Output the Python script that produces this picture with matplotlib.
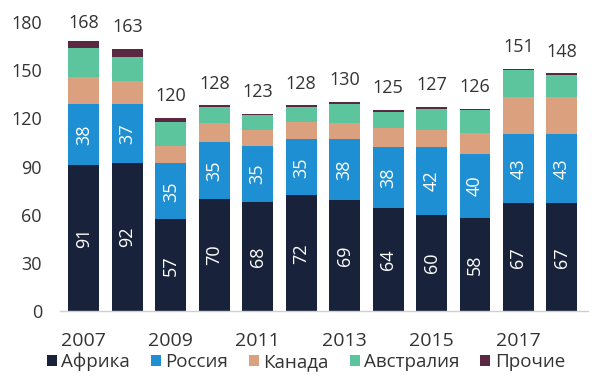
import numpy as np
import matplotlib
matplotlib.use('Agg')
import matplotlib.pyplot as plt

plt.rcParams['font.family'] = ['Open Sans', 'DejaVu Sans']

# Data
years = [2007, 2008, 2009, 2010, 2011, 2012, 2013, 2014, 2015, 2016, 2017, 2018]
africa = [91, 92, 57, 70, 68, 72, 69, 64, 60, 58, 67, 67]
russia = [38, 37, 35, 35, 35, 35, 38, 38, 42, 40, 43, 43]
canada = [17, 14, 11, 12, 10, 11, 10, 12, 11, 13, 23, 23]
australia = [18, 15, 15, 10, 9, 9, 12, 10, 13, 14, 17, 14]
others = [4, 5, 2, 1, 1, 1, 1, 1, 1, 1, 1, 1]
totals = [168, 163, 120, 128, 123, 128, 130, 125, 127, 126, 151, 148]
yticks = [0, 30, 60, 90, 120, 150, 180]

names = ['Африка', 'Россия', 'Канада', 'Австралия', 'Прочие']
colors = ['#18223a', '#1f8fd3', '#dba07d', '#5cc59d', '#5a2840']
text_color = '#333333'

fig = plt.figure(figsize=(6, 3.79), dpi=100)
ax = fig.add_axes([60 / 600, 1 - 311 / 379, 528 / 600, 289 / 379])

x = np.arange(len(years))
bottom = np.zeros(len(years))
series = [africa, russia, canada, australia, others]
for vals, name, col in zip(series, names, colors):
    vals = np.array(vals)
    ax.bar(x, vals, width=0.71, bottom=bottom, color=col, label=name)
    # white value labels inside the two bottom segments
    if name in ('Африка', 'Россия'):
        for xi, b, v in zip(x, bottom, vals):
            ax.text(xi, b + v / 2, str(v), rotation=90, ha='center', va='center',
                    color='white', fontsize=13)
    bottom += vals

# totals above bars (kept inside the plot area at the top)
for xi, top, t in zip(x, bottom, totals):
    ax.text(xi, min(top + 10.5, 176), str(t), ha='center', va='baseline',
            fontsize=13, color=text_color, clip_on=False)

ax.set_xlim(-0.55, 11.6)
ax.set_ylim(0, 180)

# every other year is labelled
ax.set_xticks(x[::2])
ax.set_xticklabels([str(y) for y in years[::2]], fontsize=14, color=text_color)
ax.tick_params(axis='x', length=0, pad=15)

ax.set_yticks(yticks)
ax.set_yticklabels([str(v) for v in yticks], fontsize=13, color=text_color)
ax.tick_params(axis='y', length=0, pad=13)

for s in ['top', 'right', 'left']:
    ax.spines[s].set_visible(False)
ax.spines['bottom'].set_color('#d0d0d0')
ax.spines['bottom'].set_linewidth(1)

fig.legend(loc='center', bbox_to_anchor=(306 / 600, 1 - 362 / 379), ncol=5,
           frameon=False, fontsize=13.5, handlelength=0.53, handleheight=0.53,
           handletextpad=0.25, columnspacing=1.1, labelcolor=text_color,
           borderpad=0, borderaxespad=0)

fig.savefig('out.png', dpi=100)
